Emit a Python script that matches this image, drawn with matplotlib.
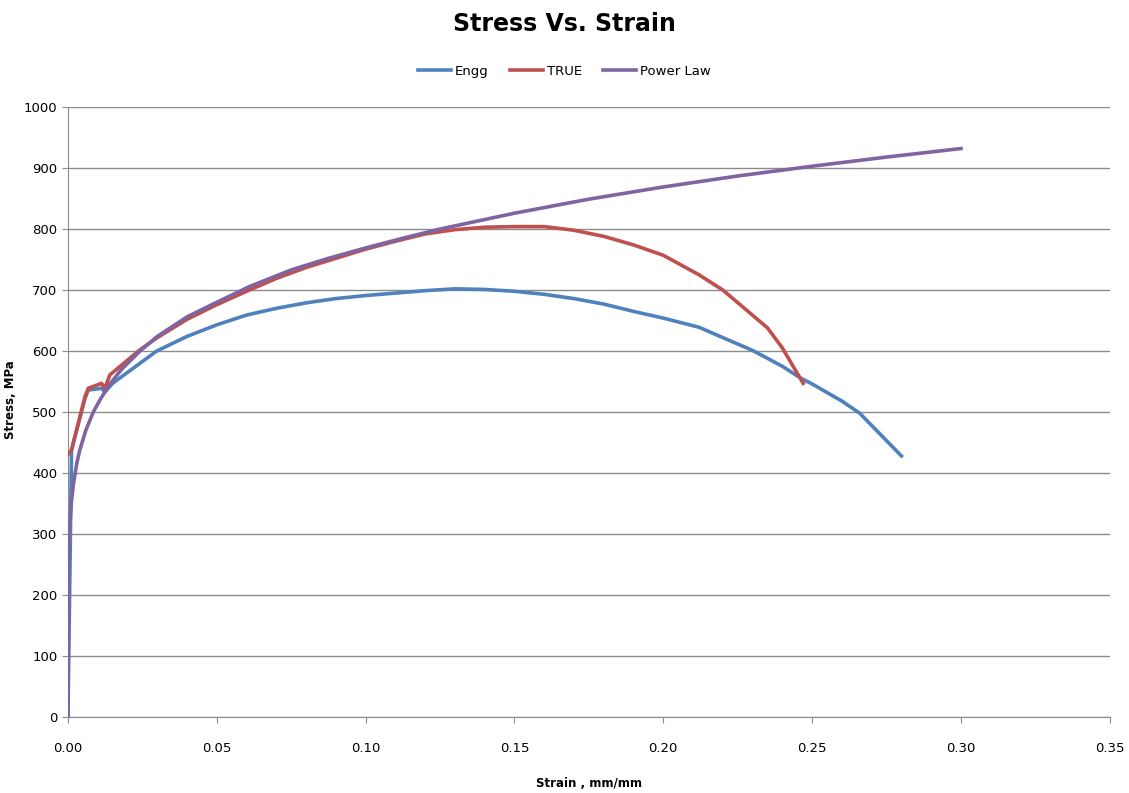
import matplotlib.pyplot as plt
from matplotlib.ticker import FormatStrFormatter

# valores
engg_strain = [0.0, 0.0012, 0.0057, 0.0068, 0.0113, 0.0124, 0.015, 0.02, 0.0298, 0.04, 0.05, 0.06,
               0.07, 0.08, 0.09, 0.10, 0.11, 0.12, 0.13, 0.14, 0.15, 0.16, 0.17, 0.18, 0.19,
               0.20, 0.212, 0.22, 0.23, 0.24, 0.246, 0.25, 0.26, 0.266, 0.28]
engg_stress = [0, 438, 522, 536, 539, 533, 547, 565, 600, 624, 643, 659,
               670, 679, 686, 691, 695, 699, 702, 701, 698, 693, 686, 677, 665,
               654, 639, 622, 601, 575, 556, 546, 518, 498, 428]

true_strain = [0.0, 0.0012, 0.0057, 0.0068, 0.0113, 0.0124, 0.0141, 0.02, 0.0242, 0.03, 0.04, 0.05,
               0.06, 0.07, 0.08, 0.09, 0.10, 0.11, 0.12, 0.13, 0.14, 0.15, 0.16, 0.17, 0.18,
               0.19, 0.20, 0.212, 0.22, 0.235, 0.24, 0.247]
true_stress = [430, 438, 525, 539, 547, 539, 561, 585, 602, 622, 652, 676,
               698, 719, 737, 752, 767, 780, 792, 799, 803, 804, 804, 798, 788,
               774, 757, 725, 700, 638, 605, 547]

power_strain = [0.0, 0.0002, 0.0006, 0.0012, 0.0018, 0.003, 0.004, 0.006, 0.0085, 0.011, 0.0141,
                0.018, 0.0242, 0.03, 0.035, 0.04, 0.05, 0.0611, 0.075, 0.0875, 0.10, 0.1125,
                0.125, 0.15, 0.175, 0.20, 0.225, 0.25, 0.275, 0.30]
power_stress = [0, 270, 314, 355, 381, 417, 438, 470, 500, 522, 546,
                570, 600, 624, 640, 656, 680, 706, 733, 752, 769, 785,
                800, 826, 849, 869, 887, 903, 918, 932]

fig = plt.figure(figsize=(11.29, 7.93), dpi=100)
ax = fig.add_axes([0.0602, 0.0958, 0.9228, 0.7692])

ax.plot(engg_strain, engg_stress, color='#4F81BD', linewidth=2.6, label='Engg', zorder=3)
ax.plot(true_strain, true_stress, color='#C0504D', linewidth=2.6, label='TRUE', zorder=4)
ax.plot(power_strain, power_stress, color='#8064A2', linewidth=2.6, label='Power Law', zorder=5)

ax.set_xlim(0, 0.35)
ax.set_ylim(0, 1000)
ax.set_xticks([0.0, 0.05, 0.10, 0.15, 0.20, 0.25, 0.30, 0.35])
ax.set_yticks(range(0, 1001, 100))
ax.xaxis.set_major_formatter(FormatStrFormatter('%.2f'))
ax.yaxis.grid(True, color='#8C8C8C', linewidth=1.0)
ax.set_axisbelow(True)

for s in ['top', 'right']:
    ax.spines[s].set_visible(False)
for s in ['left', 'bottom']:
    ax.spines[s].set_color('#8C8C8C')
ax.tick_params(axis='both', colors='#8C8C8C', labelcolor='black', labelsize=9.5, length=4)
ax.tick_params(axis='x', pad=14)

ax.set_xlabel('Strain , mm/mm', fontsize=8.5, fontweight='bold', labelpad=16)
ax.set_ylabel('Stress, MPa', fontsize=8.5, fontweight='bold')
ax.yaxis.set_label_coords(-0.049, 0.52)

fig.suptitle('Stress Vs. Strain', fontsize=17, fontweight='bold', y=0.985)
fig.legend(loc='center', bbox_to_anchor=(0.5, 0.91), ncol=3, frameon=False, fontsize=9.5,
           handlelength=2.5, handletextpad=0.3, columnspacing=1.6)

plt.savefig('out.png', dpi=100)
